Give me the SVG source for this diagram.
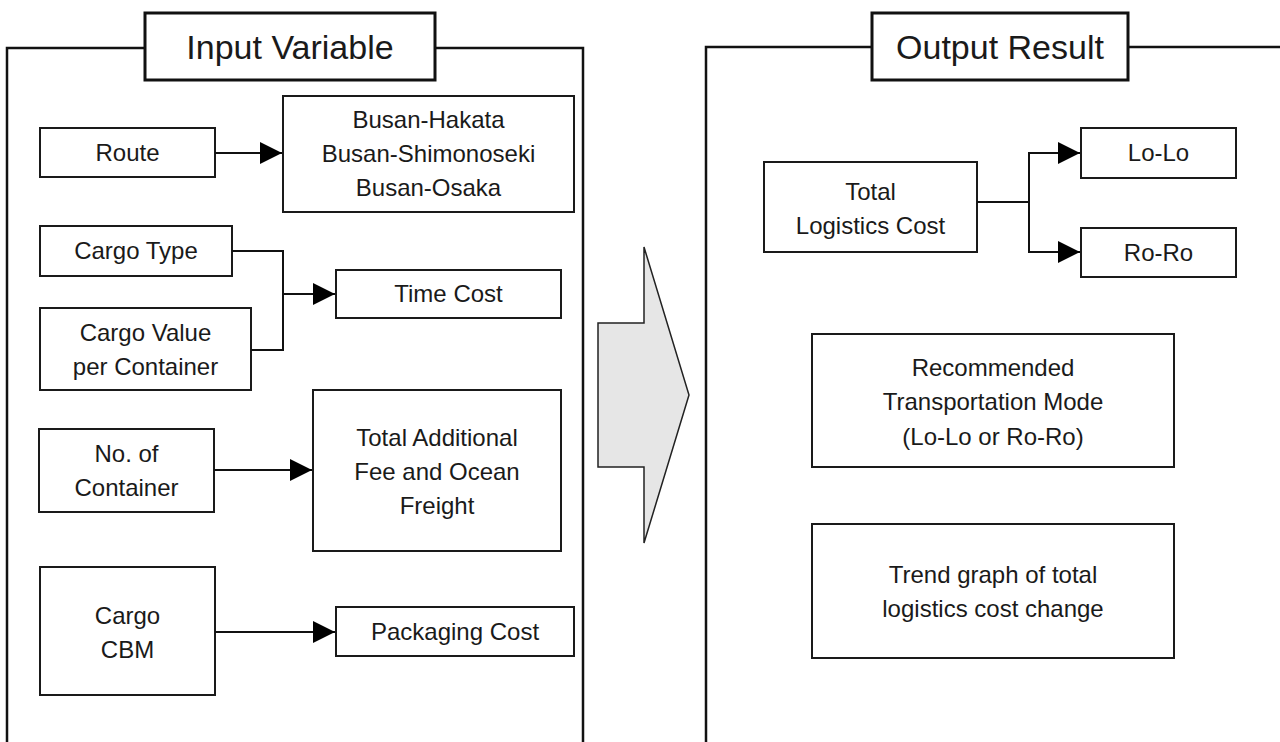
<svg xmlns="http://www.w3.org/2000/svg" width="1280" height="742" viewBox="0 0 1280 742">
<defs>
<style>
.box{fill:#fff;stroke:#1a1a1a;stroke-width:2}
.frame{fill:none;stroke:#111;stroke-width:2.5}
.title{fill:#fff;stroke:#111;stroke-width:3}
.t{font-family:"Liberation Sans",Arial,sans-serif;font-size:24px;fill:#1a1a1a;text-anchor:middle}
.tt{font-family:"Liberation Sans",Arial,sans-serif;font-size:34px;fill:#1a1a1a;text-anchor:middle}
.c{fill:none;stroke:#111;stroke-width:2}
</style>
<marker id="ah" viewBox="0 0 10 10" refX="10" refY="5" markerWidth="22" markerHeight="22" markerUnits="userSpaceOnUse" orient="auto">
<path d="M0,0 L10,5 L0,10 Z" fill="#000"/>
</marker>
</defs>
<rect width="1280" height="742" fill="#fff"/>

<g id="input-frame">
<polyline class="frame" points="7,742 7,48 145,48"/>
<polyline class="frame" points="435,48 583,48 583,742"/>
<rect class="title" x="145" y="13" width="290" height="67"/>
<text class="tt" x="290" y="59">Input Variable</text>
</g>

<g id="output-frame">
<polyline class="frame" points="706,742 706,47 872,47"/>
<polyline class="frame" points="1128,47 1281,47"/>
<rect class="title" x="872" y="13" width="256" height="67"/>
<text class="tt" x="1000" y="59">Output Result</text>
</g>

<g id="big-arrow">
<polygon points="598,323 644,323 644,247 689,395 644,543 644,467 598,467" fill="#e6e6e6" stroke="#222" stroke-width="1.5"/>
</g>

<g id="route">
<rect class="box" x="40" y="128" width="175" height="49"/>
<text class="t" x="127.5" y="161">Route</text>
</g>
<g id="routes">
<rect class="box" x="283" y="96" width="291" height="116"/>
<text class="t" x="428.5" y="128">Busan-Hakata</text>
<text class="t" x="428.5" y="162">Busan-Shimonoseki</text>
<text class="t" x="428.5" y="196">Busan-Osaka</text>
</g>
<g id="cargo-type">
<rect class="box" x="40" y="226" width="192" height="50"/>
<text class="t" x="136" y="259">Cargo Type</text>
</g>
<g id="cargo-value">
<rect class="box" x="40" y="308" width="211" height="82"/>
<text class="t" x="145.5" y="341">Cargo Value</text>
<text class="t" x="145.5" y="375">per Container</text>
</g>
<g id="time-cost">
<rect class="box" x="336" y="270" width="225" height="48"/>
<text class="t" x="448.5" y="302">Time Cost</text>
</g>
<g id="no-container">
<rect class="box" x="39" y="429" width="175" height="83"/>
<text class="t" x="126.5" y="462">No. of</text>
<text class="t" x="126.5" y="496">Container</text>
</g>
<g id="additional-fee">
<rect class="box" x="313" y="390" width="248" height="161"/>
<text class="t" x="437" y="446">Total Additional</text>
<text class="t" x="437" y="480">Fee and Ocean</text>
<text class="t" x="437" y="514">Freight</text>
</g>
<g id="cargo-cbm">
<rect class="box" x="40" y="567" width="175" height="128"/>
<text class="t" x="127.5" y="624">Cargo</text>
<text class="t" x="127.5" y="658">CBM</text>
</g>
<g id="packaging-cost">
<rect class="box" x="336" y="607" width="238" height="49"/>
<text class="t" x="455" y="640">Packaging Cost</text>
</g>

<g id="total-logistics">
<rect class="box" x="764" y="162" width="213" height="90"/>
<text class="t" x="870.5" y="200">Total</text>
<text class="t" x="870.5" y="234">Logistics Cost</text>
</g>
<g id="lolo">
<rect class="box" x="1081" y="128" width="155" height="50"/>
<text class="t" x="1158.5" y="161">Lo-Lo</text>
</g>
<g id="roro">
<rect class="box" x="1081" y="228" width="155" height="49"/>
<text class="t" x="1158.5" y="261">Ro-Ro</text>
</g>
<g id="recommended">
<rect class="box" x="812" y="334" width="362" height="133"/>
<text class="t" x="993" y="376">Recommended</text>
<text class="t" x="993" y="410">Transportation Mode</text>
<text class="t" x="993" y="445">(Lo-Lo or Ro-Ro)</text>
</g>
<g id="trend">
<rect class="box" x="812" y="524" width="362" height="134"/>
<text class="t" x="993" y="583">Trend graph of total</text>
<text class="t" x="993" y="617">logistics cost change</text>
</g>

<g id="connectors">
<line class="c" x1="215" y1="153" x2="282" y2="153" marker-end="url(#ah)"/>
<polyline class="c" points="232,251 283,251 283,350 251,350"/>
<line class="c" x1="283" y1="294" x2="335" y2="294" marker-end="url(#ah)"/>
<line class="c" x1="214" y1="470" x2="312" y2="470" marker-end="url(#ah)"/>
<line class="c" x1="215" y1="632" x2="335" y2="632" marker-end="url(#ah)"/>
<line class="c" x1="977" y1="202" x2="1029" y2="202"/>
<line class="c" x1="1029" y1="153" x2="1029" y2="252"/>
<line class="c" x1="1028" y1="153" x2="1080" y2="153" marker-end="url(#ah)"/>
<line class="c" x1="1028" y1="252" x2="1080" y2="252" marker-end="url(#ah)"/>
</g>
</svg>
